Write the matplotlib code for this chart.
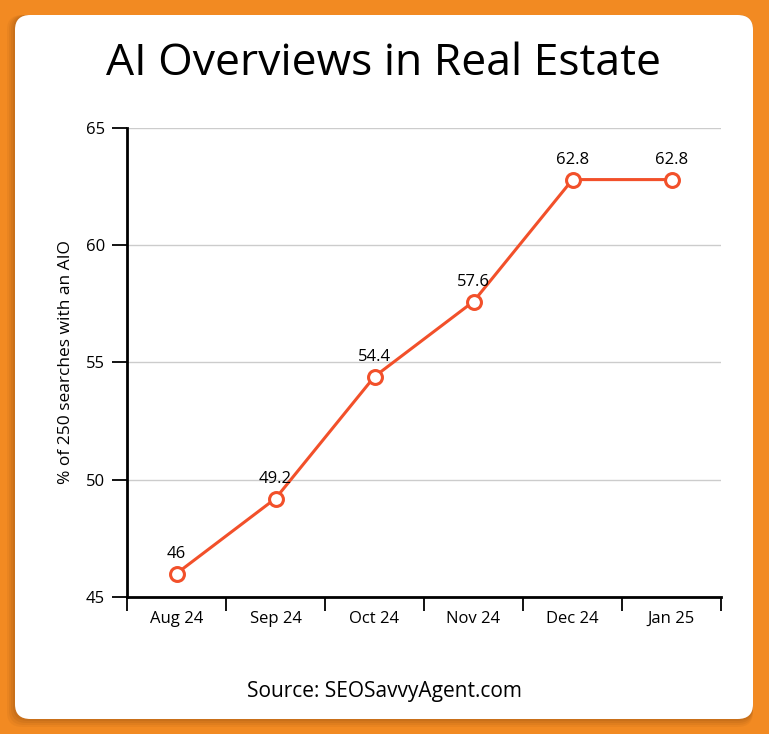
from matplotlib import pyplot as plt
from matplotlib.patches import FancyBboxPatch
import numpy as np

months = ['Aug 24', 'Sep 24', 'Oct 24', 'Nov 24', 'Dec 24', 'Jan 25']
share = [46, 49.2, 54.4, 57.6, 62.8, 62.8]
y_ticks = [45, 50, 55, 60, 65]

plt.rcParams['font.family'] = ['Open Sans', 'DejaVu Sans']

W, H = 769, 734
fig = plt.figure(figsize=(W / 100, H / 100), dpi=100)
fig.patch.set_facecolor('#F28A22')

# card shadow + white card (pixel coords converted to figure fractions)
def card(x0, y0, x1, y1, color, alpha=1.0, z=-10):
    p = FancyBboxPatch((x0 / W, 1 - y1 / H), (x1 - x0) / W, (y1 - y0) / H,
                       boxstyle='round,pad=0,rounding_size=0.02',
                       transform=fig.transFigure, facecolor=color,
                       edgecolor='none', alpha=alpha, zorder=z)
    fig.patches.append(p)

for i, a in enumerate([0.08, 0.1, 0.12, 0.14]):
    d = 8 - 2 * i
    card(15 - d, 15, 753, 719 + d, '#8a4a10', alpha=a, z=-11)
card(15, 15, 753, 719, 'white')

fig.text(384 / W, 1 - 64 / H, 'AI Overviews in Real Estate', ha='center', va='center',
         fontsize=32, color='black')

ax = fig.add_axes([127 / W, 1 - 597 / H, (721 - 127) / W, (597 - 128) / H])
ax.set_facecolor('none')

x = np.arange(len(months))
ax.plot(x, share, color='#F2502A', lw=2.2, marker='o', ms=10, mfc='white',
        mec='#F2502A', mew=2.2, zorder=3, clip_on=False)
for xi, v in zip(x, share):
    ax.annotate(f'{v:g}', (xi, v), xytext=(0, 8), textcoords='offset points',
                ha='center', va='bottom', fontsize=12)

ax.set_xlim(-0.5, len(months) - 0.5)
ax.set_ylim(45, 65)
ax.set_yticks(y_ticks)
ax.set_xticks(np.arange(len(months) + 1) - 0.5)
ax.set_xticklabels([])
ax.set_xticks(x, minor=True)
ax.set_xticklabels(months, minor=True)
ax.tick_params(axis='x', which='major', length=10, width=1.3, color='black')
ax.tick_params(axis='x', which='minor', length=0, pad=10, labelsize=12)
ax.tick_params(axis='y', length=11, width=1.3, pad=5, labelsize=12)
ax.yaxis.grid(True, color='#cccccc', lw=1)
ax.set_axisbelow(True)

for s in ['top', 'right']:
    ax.spines[s].set_visible(False)
for s in ['left', 'bottom']:
    ax.spines[s].set_linewidth(2)

ax.set_ylabel('% of 250 searches with an AIO', fontsize=12.5, labelpad=8)

fig.text(384 / W, 1 - 692 / H, 'Source: SEOSavvyAgent.com', ha='center', va='center',
         fontsize=15)

fig.savefig('out.png', dpi=100, facecolor=fig.get_facecolor())
